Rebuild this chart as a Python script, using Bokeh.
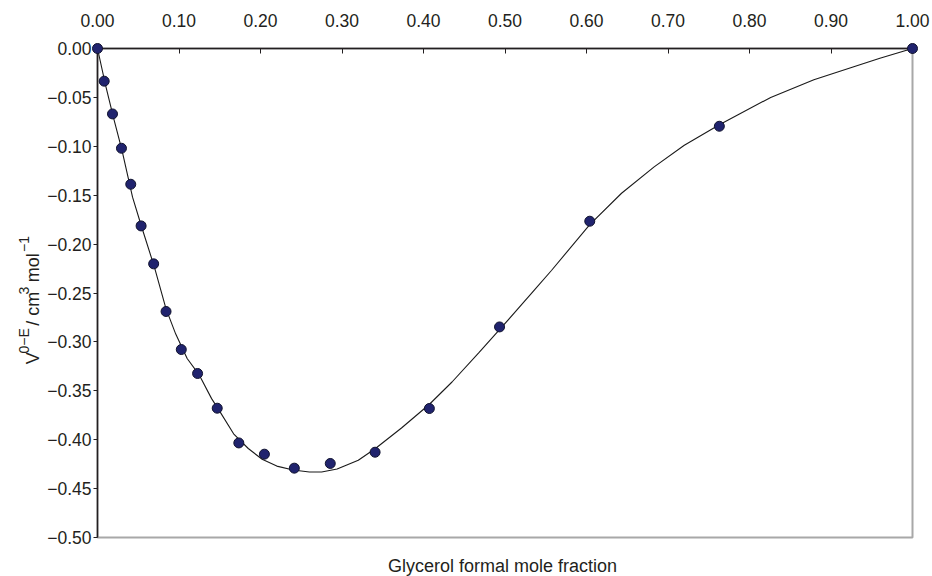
from math import pi
from bokeh.plotting import figure
from bokeh.layouts import row, column
from bokeh.models import FixedTicker, CustomJSTickFormatter, Range1d, ColumnDataSource
from bokeh.core.properties import value
from bokeh.embed import file_html
from bokeh.resources import INLINE

# ---- data ----
x_ticks = [0.0, 0.1, 0.2, 0.3, 0.4, 0.5, 0.6, 0.7, 0.8, 0.9, 1.0]
y_ticks = [0.0, -0.05, -0.10, -0.15, -0.20, -0.25, -0.30, -0.35, -0.40, -0.45, -0.50]

mole_fraction = [0.0, 0.0082, 0.0184, 0.0294, 0.0408, 0.0535, 0.0689, 0.0841,
                 0.1028, 0.1228, 0.1469, 0.1734, 0.2048, 0.2415, 0.2856, 0.3406,
                 0.4072, 0.4933, 0.6040, 0.7630, 1.0]
excess_volume = [0.0, -0.0334, -0.0669, -0.1020, -0.1388, -0.1814, -0.2202, -0.2689,
                 -0.3078, -0.3323, -0.3678, -0.4033, -0.4148, -0.4291, -0.4243, -0.4128,
                 -0.3681, -0.2847, -0.1766, -0.0795, 0.0]

fit_x = [0.000, 0.010, 0.020, 0.030, 0.043, 0.054, 0.070, 0.084, 0.096, 0.110,
         0.125, 0.140, 0.150, 0.167, 0.185, 0.202, 0.220, 0.240, 0.260, 0.275,
         0.294, 0.320, 0.341, 0.373, 0.407, 0.435, 0.468, 0.496, 0.537, 0.557,
         0.604, 0.643, 0.683, 0.720, 0.763, 0.826, 0.879, 0.927, 0.960, 1.000]
fit_y = [0.000, -0.038, -0.072, -0.104, -0.152, -0.182, -0.224, -0.266, -0.292, -0.317,
         -0.334, -0.358, -0.371, -0.394, -0.409, -0.420, -0.427, -0.431, -0.433, -0.433,
         -0.430, -0.421, -0.409, -0.388, -0.364, -0.341, -0.311, -0.285, -0.246, -0.227,
         -0.180, -0.148, -0.121, -0.099, -0.078, -0.050, -0.032, -0.019, -0.010, 0.000]

x_title = "Glycerol formal mole fraction"
# y title pieces: (text, is_superscript, gap_before_in_px)
y_title_parts = [("V", False, 0), ("0\u2212E", True, 0), ("/", False, 6), ("cm", False, 6),
                 ("3", True, 0), ("mol", False, 6), ("\u22121", True, 5)]

FONT = "Liberation Sans"
TXT = "#231f20"
LEFT_W = 44
TOP_H = 550          # height of the row holding the chart (frame bottom at 537)
TICK_FS = "17.5px"

# ---------------- main chart ----------------
p = figure(width=932 - LEFT_W, height=TOP_H, output_backend="svg", toolbar_location=None,
           x_axis_location="above",
           x_range=Range1d(0, 1), y_range=Range1d(-0.5, 0),
           min_border_left=95 - LEFT_W, min_border_right=20, min_border_top=48,
           min_border_bottom=TOP_H - 537)
p.background_fill_color = "white"
p.border_fill_color = "white"
p.grid.visible = False
p.outline_line_color = "#a8a8a8"
p.outline_line_width = 2

xa = p.xaxis[0]
xa.ticker = FixedTicker(ticks=x_ticks)
xa.formatter = CustomJSTickFormatter(code="return tick.toFixed(2)")
xa.minor_tick_line_color = None
xa.major_tick_in = 5
xa.major_tick_out = 0
xa.major_tick_line_color = TXT
xa.axis_line_color = TXT
xa.axis_line_width = 1.5
xa.major_label_text_font = FONT
xa.major_label_text_font_size = TICK_FS
xa.major_label_text_color = TXT
xa.major_label_standoff = 22

ya = p.yaxis[0]
ya.ticker = FixedTicker(ticks=y_ticks)
ya.formatter = CustomJSTickFormatter(code="return tick.toFixed(2).replace('-', '\\u2212')")
ya.minor_tick_line_color = None
ya.major_tick_in = 0
ya.major_tick_out = 4
ya.major_tick_line_color = TXT
ya.axis_line_color = TXT
ya.axis_line_width = 1.5
ya.major_label_text_font = FONT
ya.major_label_text_font_size = TICK_FS
ya.major_label_text_color = TXT
ya.major_label_standoff = 2

line_src = ColumnDataSource(dict(x=fit_x, y=fit_y))
pt_src = ColumnDataSource(dict(x=mole_fraction, y=excess_volume))

p.line("x", "y", source=line_src, line_color="#1a1a1a", line_width=1.1)
r = p.scatter("x", "y", source=pt_src, size=10, fill_color="#20236e",
              line_color="#10122e", line_width=1)
r.level = "overlay"

# ---------------- left strip with the rotated y title ----------------
left = figure(width=LEFT_W, height=TOP_H, output_backend="svg", toolbar_location=None,
              x_range=Range1d(0, LEFT_W), y_range=Range1d(TOP_H, 0),
              x_axis_type=None, y_axis_type=None, min_border=0)
left.grid.visible = False
left.outline_line_color = None
left.background_fill_color = "white"
left.border_fill_color = "white"

em = {"V": 0.667, "0\u2212E": 1.807, "/": 0.278, "cm": 1.333, "3": 0.556,
      "mol": 1.611, "\u22121": 1.140}
cy = 355.0
base_x = 32.0
for txt, sup, gap in y_title_parts:
    fs = 14 if sup else 18
    bx = base_x - 9 if sup else base_x
    cy -= gap
    left.text(x=[bx], y=[cy], text=[txt], angle=pi / 2, text_align="left",
              text_baseline="alphabetic", text_font=value(FONT),
              text_font_size=f"{fs}px", text_color=TXT)
    cy -= em[txt] * fs

# ---------------- bottom strip with the x title ----------------
BOT_H = 576 - TOP_H
bottom = figure(width=932, height=BOT_H, output_backend="svg", toolbar_location=None,
                x_range=Range1d(0, 932), y_range=Range1d(BOT_H, 0),
                x_axis_type=None, y_axis_type=None, min_border=0)
bottom.grid.visible = False
bottom.outline_line_color = None
bottom.background_fill_color = "white"
bottom.border_fill_color = "white"
bottom.text(x=[502], y=[565 - TOP_H], text=[x_title], text_align="center",
            text_baseline="middle", text_font=value(FONT), text_font_size="18px",
            text_color=TXT)

layout = column(row(left, p, spacing=0), bottom, spacing=0)
open("out.html", "w").write(file_html(layout, INLINE))
